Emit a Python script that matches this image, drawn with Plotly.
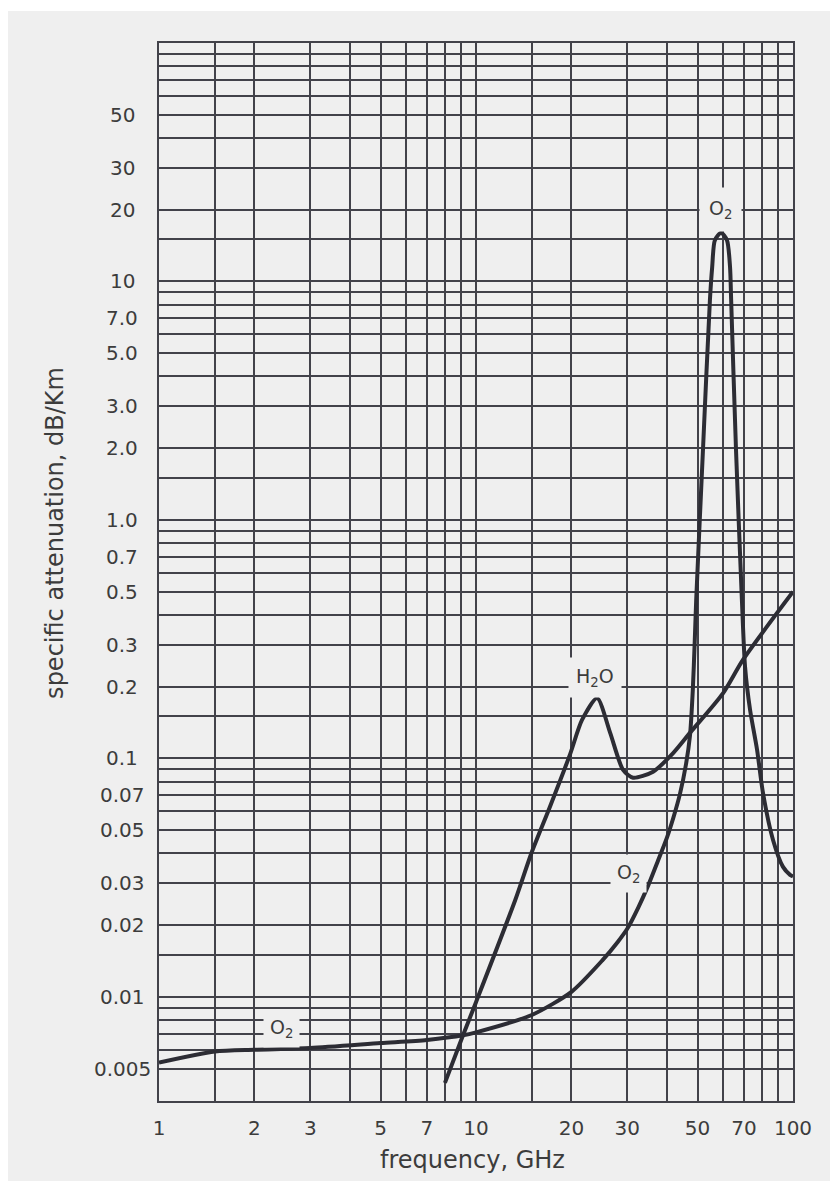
import numpy as np
import plotly.graph_objects as go

# ---- data ----
o2_freq = [1.0, 1.5, 2, 3, 5, 7, 9.1, 10, 15, 20, 25, 28, 30, 32.5, 35, 37.5, 40, 42, 44, 46, 47.3, 48.3,
           49.0, 49.5, 52, 54.7, 55.6, 56.7, 59.3, 61.9, 63.3, 63.8, 66.1, 69.0, 70.6, 73.2, 77, 80.4,
           86.5, 93, 97.9, 100]
o2_att = [0.0053, 0.0059, 0.0060, 0.0061, 0.0064, 0.0066, 0.0069, 0.0071, 0.0084, 0.0105, 0.0142, 0.0170,
          0.0193, 0.0237, 0.0295, 0.0372, 0.0464, 0.0568, 0.071, 0.095, 0.124, 0.194,
          0.314, 0.46, 1.97, 8.4, 11.5, 14.9, 16.0, 14.9, 11.5, 8.4, 1.97, 0.46, 0.242, 0.160, 0.109,
          0.0717, 0.0455, 0.0351, 0.0325, 0.032]

h2o_freq = [7.98, 9.1, 10, 13.3, 15, 17.1, 19.8, 21.6, 24.1, 26.5, 29.1, 31.3, 36.2, 41.8, 47.3, 60.2, 69.5, 100]
h2o_att = [0.00436, 0.0069, 0.0095, 0.0255, 0.0405, 0.0626, 0.104, 0.145, 0.179, 0.128, 0.0895, 0.083,
           0.088, 0.105, 0.128, 0.188, 0.259, 0.50]

x_tick_vals = [1, 2, 3, 5, 7, 10, 20, 30, 50, 70, 100]
x_tick_text = ["1", "2", "3", "5", "7", "10", "20", "30", "50", "70", "100"]
x_minor_grid = [1.5, 4, 6, 8, 9, 15, 40, 60, 80, 90]

y_grid = [0.005, 0.006, 0.007, 0.008, 0.009,
          0.01, 0.015, 0.02, 0.03, 0.04, 0.05, 0.06, 0.07, 0.08, 0.09,
          0.1, 0.15, 0.2, 0.3, 0.4, 0.5, 0.6, 0.7, 0.8, 0.9,
          1, 1.5, 2, 3, 4, 5, 6, 7, 8, 9,
          10, 15, 20, 30, 40, 50, 60, 70, 80, 90, 100]
y_label_vals = [50, 30, 20, 10, 7, 5, 3, 2, 1, 0.7, 0.5, 0.3, 0.2, 0.1, 0.07, 0.05, 0.03, 0.02, 0.01, 0.005]
y_label_text = ["50", "30", "20", "10", "7.0", "5.0", "3.0", "2.0", "1.0", "0.7", "0.5", "0.3", "0.2",
                "0.1", "0.07", "0.05", "0.03", "0.02", "0.01", "0.005"]

# gas labels: (text, freq, attenuation)
gas_labels = [("O<sub>2</sub>", 58.9, 20.0), ("H<sub>2</sub>O", 23.7, 0.218),
              ("O<sub>2</sub>", 30.2, 0.033), ("O<sub>2</sub>", 2.44, 0.0074)]

# ---- styling ----
BG = "#efefef"
GRID = "#42424a"
CURVE = "#2c2c34"
TXT = "#3c3c3c"
FONT = "DejaVu Sans"

fig = go.Figure()
fig.add_trace(go.Scatter(x=o2_freq, y=o2_att, mode="lines",
                         line=dict(color=CURVE, width=4, shape="spline", smoothing=0.7),
                         showlegend=False, hoverinfo="skip"))
fig.add_trace(go.Scatter(x=h2o_freq, y=h2o_att, mode="lines",
                         line=dict(color=CURVE, width=4, shape="spline", smoothing=0.7),
                         showlegend=False, hoverinfo="skip"))

annotations = []
for v, t in zip(y_label_vals, y_label_text):
    annotations.append(dict(x=-0.058, xref="paper", y=np.log10(v), yref="y", text=t,
                            showarrow=False, xanchor="center", yanchor="middle",
                            font=dict(family=FONT, size=20, color=TXT)))

pads = [9, 7, 6, 6]
for (t, fx, fy), p in zip(gas_labels, pads):
    annotations.append(dict(x=np.log10(fx), xref="x", y=np.log10(fy), yref="y", text=t,
                            showarrow=False, xanchor="center", yanchor="middle",
                            bgcolor=BG, borderpad=p,
                            font=dict(family=FONT, size=19, color=TXT)))

annotations.append(dict(x=-0.164, xref="paper", y=0.537, yref="paper",
                        text="specific attenuation, dB/Km", textangle=-90, showarrow=False,
                        xanchor="center", yanchor="middle",
                        font=dict(family=FONT, size=24, color=TXT)))
annotations.append(dict(x=0.495, xref="paper", y=-0.056, yref="paper",
                        text="frequency, GHz", showarrow=False,
                        xanchor="center", yanchor="middle",
                        font=dict(family=FONT, size=24, color=TXT)))

# page body adds an 8px offset; figure sized so the plot area lands where the reference has it
fig.update_layout(
    width=830, height=1173, autosize=False,
    margin=dict(l=151, r=45, t=35, b=80),
    paper_bgcolor=BG, plot_bgcolor=BG,
    annotations=annotations,
    shapes=[dict(type="rect", xref="paper", yref="paper", x0=-0.3, x1=1.1,
                 y0=1.0 + 32 / 1058, y1=1.1, fillcolor="white", line=dict(width=0), layer="below")],
    xaxis=dict(type="log", range=[0, 2], tickmode="array", tickvals=x_tick_vals, ticktext=x_tick_text,
               showgrid=True, gridcolor=GRID, gridwidth=1.6,
               minor=dict(tickmode="array", tickvals=x_minor_grid, showgrid=True,
                          gridcolor=GRID, gridwidth=1.6, ticks=""),
               showline=True, linecolor=GRID, linewidth=1.8, mirror=True,
               ticks="", ticklabelstandoff=8, tickfont=dict(family=FONT, size=20, color=TXT),
               zeroline=False),
    yaxis=dict(type="log", range=[np.log10(0.00366), 2], tickmode="array", tickvals=y_grid,
               showticklabels=False,
               showgrid=True, gridcolor=GRID, gridwidth=1.6,
               showline=True, linecolor=GRID, linewidth=1.8, mirror=True,
               ticks="", zeroline=False),
)

fig.write_html("out.html")
